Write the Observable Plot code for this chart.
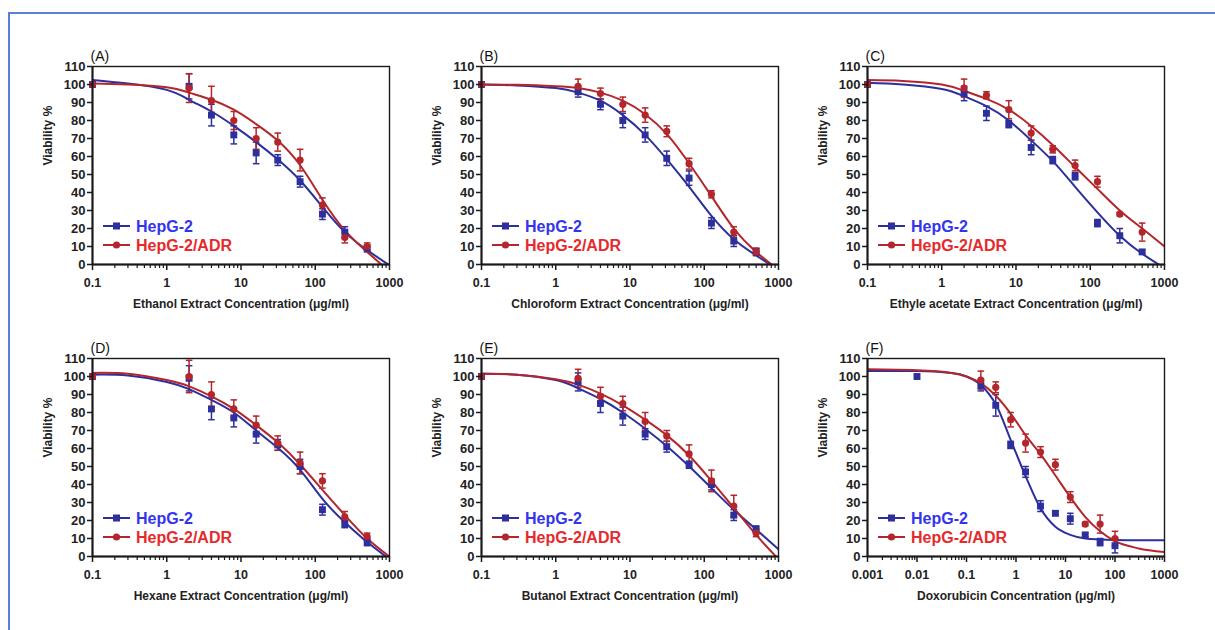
<!DOCTYPE html>
<html>
<head>
<meta charset="utf-8">
<script src="https://cdn.jsdelivr.net/npm/d3@7"></script>
<script src="https://cdn.jsdelivr.net/npm/@observablehq/plot@0.6"></script>
<style>
  body { margin: 0; background: #fff; }
  #wrap { position: relative; width: 1215px; height: 630px; overflow: hidden; background: #fff;
          font-family: "Liberation Sans", Arial, sans-serif; }
  #border { position: absolute; left: 8px; top: 12px; right: -4px; bottom: -4px;
            border-left: 2px solid #5b7fd6; border-top: 2px solid #5b7fd6; }
  .panel { position: absolute; }
</style>
</head>
<body>
<div id="wrap"><div id="border"></div></div>
<script>
// ---------------- DATA ----------------
const seriesNames = ["HepG-2", "HepG-2/ADR"];
const panelLetters = ["(A)", "(B)", "(C)", "(D)", "(E)", "(F)"];
const xAxisLabels = [
  "Ethanol Extract Concentration (μg/ml)",
  "Chloroform Extract Concentration (μg/ml)",
  "Ethyle acetate Extract Concentration (μg/ml)",
  "Hexane Extract Concentration (μg/ml)",
  "Butanol Extract Concentration (μg/ml)",
  "Doxorubicin Concentration (μg/ml)"
];
const yAxisLabel = "Viability %";
const yTicks = [0, 10, 20, 30, 40, 50, 60, 70, 80, 90, 100, 110];
const xTicksExtract = [0.1, 1, 10, 100, 1000];
const xTicksDox = [0.001, 0.01, 0.1, 1, 10, 100, 1000];

// measured concentrations
const concExtract = [0.1, 2, 4, 8, 16, 31.25, 62.5, 125, 250, 500];
const concDox = [0.01, 0.195, 0.39, 0.78, 1.56, 3.125, 6.25, 12.5, 25, 50, 100];
// points along the fitted curves
const fitXExtract = [0.1, 0.3, 1, 2, 4, 8, 16, 32, 63, 125, 250, 500, 1000];
const fitXDox = [0.001, 0.01, 0.05, 0.1, 0.2, 0.4, 0.8, 1.6, 3.1, 6.25, 12.5, 25, 50, 100, 300, 1000];

// (A) Ethanol
const ethanolHepG2    = [100, 99, 83, 72, 62, 58, 46, 28, 18, 9];
const ethanolHepG2Err = [0, 7, 6, 5, 6, 3, 3, 3, 3, 2];
const ethanolADR      = [100, 98, 91, 80, 70, 68, 58, 33, 15, 10];
const ethanolADRErr   = [0, 8, 8, 5, 6, 5, 6, 4, 3, 2];
const ethanolFitHepG2 = [102.5, 100.5, 97, 91.5, 85, 77, 68, 58, 46.5, 32, 18, 8, -0.5];
const ethanolFitADR   = [100.5, 100, 98.5, 95.5, 91.5, 86, 78, 68.5, 55, 36, 19, 7, -4];

// (B) Chloroform
const chloroformHepG2    = [100, 96, 89, 80, 72, 59, 48, 23, 13, 7];
const chloroformHepG2Err = [0, 3, 3, 4, 4, 4, 4, 3, 3, 2];
const chloroformADR      = [100, 99, 95, 89, 83, 74, 56, 39, 18, 7];
const chloroformADRErr   = [0, 4, 3, 4, 4, 3, 3, 2, 3, 2];
const chloroformFitHepG2 = [100, 99.5, 98, 95.5, 91, 83, 72, 58, 43, 27, 14, 5, -3];
const chloroformFitADR   = [100, 99.8, 99, 98, 95.5, 91, 83.5, 72, 56, 38, 20, 7, -3];

// (C) Ethyl acetate
const ethylHepG2    = [100, 95, 84, 78, 65, 58, 49, 23, 16, 7];
const ethylHepG2Err = [0, 4, 4, 2, 4, 2, 2, 2, 4, 1];
const ethylADR      = [100, 98, 94, 86, 73, 64, 55, 46, 28, 18];
const ethylADRErr   = [0, 5, 2, 5, 4, 2, 3, 3, 1, 5];
const ethylFitHepG2 = [101, 100, 97.5, 93.5, 88, 80, 69, 57, 43, 29, 16, 6, -2];
const ethylFitADR   = [102.5, 102, 100, 96.5, 92, 86, 77, 66, 54, 42, 30, 20, 10];

// (D) Hexane
const hexaneHepG2    = [100, 99, 82, 77, 68, 62, 50, 26, 18, 8];
const hexaneHepG2Err = [0, 7, 6, 5, 5, 3, 4, 3, 2, 2];
const hexaneADR      = [100, 100, 90, 82, 73, 63, 52, 42, 22, 11];
const hexaneADRErr   = [0, 9, 7, 5, 5, 4, 6, 4, 3, 2];
const hexaneFitHepG2 = [101, 100.5, 97, 93, 87, 80, 70, 60, 48, 32, 19, 8, -1.5];
const hexaneFitADR   = [102, 101.5, 98, 94.5, 89, 82, 73, 63, 51, 37, 23, 10, 0];

// (E) Butanol
const butanolHepG2    = [100, 97, 85, 78, 68, 61, 51, 40, 23, 15];
const butanolHepG2Err = [0, 5, 5, 5, 3, 3, 2, 3, 3, 2];
const butanolADR      = [100, 99, 89, 85, 75, 67, 57, 42, 28, 13];
const butanolADRErr   = [0, 5, 5, 4, 5, 3, 5, 6, 6, 2];
const butanolFitHepG2 = [101.5, 101, 98, 93.5, 87.5, 80, 71, 61, 50, 38, 26, 15, 4];
const butanolFitADR   = [101.5, 101, 98.5, 95.5, 90.5, 84, 76, 67, 56, 42, 27, 12, -1.5];

// (F) Doxorubicin
const doxHepG2    = [100, 95, 84, 62, 47, 28, 24, 21, 12, 8, 6];
const doxHepG2Err = [0, 3, 6, 2, 3, 3, 1, 3, 1, 2, 4];
const doxADR      = [null, 98, 94, 76, 63, 58, 51, 33, 18, 18, 10];
const doxADRErr   = [0, 5, 3, 4, 5, 3, 3, 3, 1, 5, 4];
const doxFitHepG2 = [103, 103, 102, 100, 95, 84, 64, 44, 27, 16.5, 12, 10, 9.5, 9.2, 9, 9];
const doxFitADR   = [104, 103.5, 102, 100, 96, 89, 79, 67, 57, 45, 33, 22, 14, 8.5, 4.5, 2.5];

// ---------------- STYLE / LAYOUT ----------------
const lineColors = ["#2c2f9c", "#b3262b"];
const legendTextColors = ["#3434ee", "#e62a2c"];
const symbols = ["square", "circle"];
const plotLefts = [92, 481, 867, 92, 481, 867];
const plotTops = [66, 66, 66, 358, 358, 358];
const FW = 297, FH = 198, mL = 62, mR = 14, mT = 32, mB = 62;

const panels = [
  {conc: concExtract, fitX: fitXExtract, ticks: xTicksExtract, curve: "natural",
   vals: [ethanolHepG2, ethanolADR], errs: [ethanolHepG2Err, ethanolADRErr], fits: [ethanolFitHepG2, ethanolFitADR]},
  {conc: concExtract, fitX: fitXExtract, ticks: xTicksExtract, curve: "natural",
   vals: [chloroformHepG2, chloroformADR], errs: [chloroformHepG2Err, chloroformADRErr], fits: [chloroformFitHepG2, chloroformFitADR]},
  {conc: concExtract, fitX: fitXExtract, ticks: xTicksExtract, curve: "natural",
   vals: [ethylHepG2, ethylADR], errs: [ethylHepG2Err, ethylADRErr], fits: [ethylFitHepG2, ethylFitADR]},
  {conc: concExtract, fitX: fitXExtract, ticks: xTicksExtract, curve: "natural",
   vals: [hexaneHepG2, hexaneADR], errs: [hexaneHepG2Err, hexaneADRErr], fits: [hexaneFitHepG2, hexaneFitADR]},
  {conc: concExtract, fitX: fitXExtract, ticks: xTicksExtract, curve: "natural",
   vals: [butanolHepG2, butanolADR], errs: [butanolHepG2Err, butanolADRErr], fits: [butanolFitHepG2, butanolFitADR]},
  {conc: concDox, fitX: fitXDox, ticks: xTicksDox, curve: "monotone-x",
   vals: [doxHepG2, doxADR], errs: [doxHepG2Err, doxADRErr], fits: [doxFitHepG2, doxFitADR]}
];

const capSymbol = { draw(ctx) { ctx.moveTo(-3.3, 0); ctx.lineTo(3.3, 0); } };
const fmt = d3.format("~g");

function legendMark() {
  const g = d3.create("svg:g");
  const base = mT + FH;
  [38, 19].forEach((off, s) => {
    const y = base - off;
    g.append("line").attr("x1", mL + 11).attr("x2", mL + 38).attr("y1", y).attr("y2", y)
      .attr("stroke", lineColors[s]).attr("stroke-width", 2);
    if (s === 0) {
      g.append("rect").attr("x", mL + 24.5 - 3.5).attr("y", y - 3.5).attr("width", 7).attr("height", 7)
        .attr("fill", lineColors[s]);
    } else {
      g.append("circle").attr("cx", mL + 24.5).attr("cy", y).attr("r", 3.6).attr("fill", lineColors[s]);
    }
    g.append("text").attr("x", mL + 44).attr("y", y).attr("dy", "0.36em")
      .attr("text-anchor", "start")
      .attr("fill", legendTextColors[s]).attr("font-size", 16).attr("font-weight", "bold")
      .text(seriesNames[s]);
  });
  return g.node();
}

const wrap = document.getElementById("wrap");

panels.forEach((p, k) => {
  const pts = [], fits = [];
  [0, 1].forEach(s => {
    p.conc.forEach((c, j) => {
      const v = p.vals[s][j];
      if (v != null) pts.push({s, conc: c, v, e: p.errs[s][j]});
    });
    p.fitX.forEach((c, j) => fits.push({s, conc: c, v: p.fits[s][j]}));
  });
  const errPts = pts.filter(d => d.e > 0);
  const xmin = p.ticks[0], xmax = p.ticks[p.ticks.length - 1];
  const minor = [];
  for (let d = 0; d < p.ticks.length - 1; d++)
    for (let m = 2; m <= 9; m++) minor.push(p.ticks[d] * m);

  const marks = [];
  [0, 1].forEach(s => {
    const ep = errPts.filter(d => d.s === s);
    marks.push(Plot.ruleX(ep, {x: "conc", y1: d => d.v - d.e, y2: d => d.v + d.e, stroke: lineColors[s], strokeWidth: 1.5}));
    marks.push(Plot.dot(ep, {x: "conc", y: d => d.v + d.e, symbol: capSymbol, r: 3, stroke: lineColors[s], fill: "none", strokeWidth: 1.5}));
    marks.push(Plot.dot(ep, {x: "conc", y: d => d.v - d.e, symbol: capSymbol, r: 3, stroke: lineColors[s], fill: "none", strokeWidth: 1.5}));
  });
  [0, 1].forEach(s => {
    marks.push(Plot.line(fits.filter(d => d.s === s), {x: "conc", y: "v", stroke: lineColors[s], strokeWidth: 2, curve: p.curve, clip: true}));
  });
  [0, 1].forEach(s => {
    marks.push(Plot.dot(pts.filter(d => d.s === s), {x: "conc", y: "v", symbol: symbols[s], r: s === 0 ? 3.9 : 3.6, fill: lineColors[s]}));
  });
  marks.push(Plot.frame({stroke: "#1a1a1a", strokeWidth: 1.4}));
  marks.push(Plot.ruleY([0], {stroke: "#1a1a1a", strokeWidth: 2}));
  marks.push(Plot.ruleX([xmin], {stroke: "#1a1a1a", strokeWidth: 2}));
  marks.push(Plot.axisY({ticks: yTicks, tickSize: 5, tickPadding: 2, tickFormat: fmt, label: null, stroke: "#1a1a1a", strokeWidth: 1.5, fontSize: 13}));
  marks.push(Plot.axisX({ticks: p.ticks, tickSize: 6, tickPadding: 8, tickFormat: fmt, label: null, stroke: "#1a1a1a", strokeWidth: 1.5, fontSize: 12.5}));
  marks.push(Plot.axisX({ticks: minor, tickSize: 4, tickFormat: () => "", label: null, stroke: "#1a1a1a", strokeWidth: 1.2}));
  marks.push(Plot.text([panelLetters[k]], {frameAnchor: "top-left", dx: -2, dy: -15, textAnchor: "start", fontSize: 14, fontWeight: "normal", fill: "#111"}));
  marks.push(Plot.text([yAxisLabel], {frameAnchor: "left", dx: -44, rotate: -90, fontSize: 12, fontWeight: "bold", fill: "#222"}));
  marks.push(Plot.text([xAxisLabels[k]], {frameAnchor: "bottom", dy: 43, fontSize: 12, fontWeight: "bold", fill: "#222"}));
  marks.push(legendMark);

  const chart = Plot.plot({
    width: mL + FW + mR,
    height: mT + FH + mB,
    marginLeft: mL, marginRight: mR, marginTop: mT, marginBottom: mB,
    x: {type: "log", domain: [xmin, xmax], axis: null, label: null},
    y: {domain: [0, 110], axis: null, label: null},
    style: {fontFamily: '"Liberation Sans", Arial, sans-serif', fontSize: "12px", fontWeight: "bold", color: "#222", background: "transparent", overflow: "visible"},
    marks
  });
  const div = document.createElement("div");
  div.className = "panel";
  div.style.left = (plotLefts[k] - mL) + "px";
  div.style.top = (plotTops[k] - mT) + "px";
  div.style.width = (mL + FW + mR) + "px";
  div.appendChild(chart);
  wrap.appendChild(div);
});
</script>
</body>
</html>
